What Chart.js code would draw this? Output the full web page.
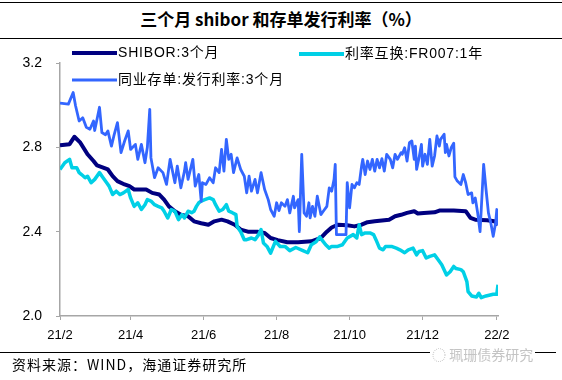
<!DOCTYPE html>
<html>
<head>
<meta charset="utf-8">
<script src="https://cdn.jsdelivr.net/npm/chart.js@4/dist/chart.umd.min.js"></script>
<style>
  html, body { margin: 0; padding: 0; background: #fff; }
  #wrap { position: relative; width: 562px; height: 380px; overflow: hidden; background: #fff; }
  #c { position: absolute; left: 0; top: 0; }
  .hl { position: absolute; left: 0; width: 562px; height: 0; border-top: 1.5px solid #000; }
  #title { position: absolute; left: 0; width: 562px; top: 7px; text-align: center;
    font-family: "Noto Sans CJK SC", "Liberation Sans", sans-serif; font-weight: bold; font-size: 17px; color: #000; line-height: 24px; }
  #source { position: absolute; left: 12px; top: 354px; font-family: "Noto Sans CJK SC", "Liberation Sans", sans-serif;
    font-size: 14px; letter-spacing: 1px; color: #000; line-height: 20px; }
  #wm { position: absolute; left: 430px; top: 344px; font-family: "Noto Sans CJK SC", sans-serif; font-size: 14px;
    color: #c4c4c4; line-height: 20px; background: #fff; padding: 0 2px; }
</style>
</head>
<body>
<div id="wrap">
  <div class="hl" style="top:2px"></div>
  <div id="title">三个月 shibor 和存单发行利率（%）</div>
  <div class="hl" style="top:38px"></div>
  <canvas id="c" width="562" height="380"></canvas>
  <div class="hl" style="top:352px; width:556px"></div>
  <div id="wm">◌ 珮珊债券研究</div>
  <div id="source">资料来源：WIND，海通证券研究所</div>
</div>
<script>
// ---------- data ----------
const startDate = "2021-02-01";
const tickDates = ["2021-02-01","2021-04-01","2021-06-01","2021-08-01","2021-10-01","2021-12-01","2022-02-01"];
const tickLabels = ["21/2","21/4","21/6","21/8","21/10","21/12","22/2"];
const endDate = "2022-02-02";

const shiborLabel = "SHIBOR:3个月";
const shiborDates = ["2021-02-01","2021-02-09","2021-02-13","2021-02-18","2021-02-24","2021-03-01","2021-03-04","2021-03-13","2021-03-17","2021-03-21","2021-03-27","2021-03-31","2021-04-04","2021-04-14","2021-04-19","2021-04-25","2021-04-29","2021-05-03","2021-05-08","2021-05-13","2021-05-19","2021-05-24","2021-05-30","2021-06-05","2021-06-10","2021-06-16","2021-06-21","2021-06-27","2021-07-02","2021-07-08","2021-07-16","2021-07-22","2021-07-27","2021-08-02","2021-08-10","2021-08-19","2021-08-30","2021-09-07","2021-09-12","2021-09-16","2021-09-21","2021-09-29","2021-10-05","2021-10-11","2021-10-16","2021-10-22","2021-10-30","2021-11-03","2021-11-08","2021-11-13","2021-11-18","2021-11-24","2021-11-27","2021-12-02","2021-12-11","2021-12-15","2021-12-27","2022-01-06","2022-01-10","2022-01-14","2022-01-24","2022-01-30","2022-02-02"];
const shiborValues = [2.81,2.815,2.85,2.822,2.767,2.735,2.714,2.695,2.663,2.64,2.624,2.616,2.60,2.60,2.584,2.576,2.552,2.52,2.497,2.48,2.473,2.449,2.44,2.433,2.449,2.457,2.449,2.433,2.41,2.40,2.40,2.394,2.37,2.36,2.35,2.35,2.354,2.37,2.40,2.42,2.433,2.43,2.425,2.433,2.445,2.449,2.454,2.457,2.473,2.48,2.489,2.497,2.486,2.489,2.492,2.50,2.50,2.497,2.465,2.457,2.454,2.449,2.433];

const fr007Label = "利率互换:FR007:1年";
const fr007Dates = ["2021-02-01","2021-02-05","2021-02-09","2021-02-11","2021-02-15","2021-02-17","2021-02-19","2021-02-22","2021-02-24","2021-02-27","2021-03-02","2021-03-06","2021-03-09","2021-03-12","2021-03-14","2021-03-17","2021-03-20","2021-03-23","2021-03-26","2021-03-30","2021-04-01","2021-04-04","2021-04-07","2021-04-10","2021-04-13","2021-04-15","2021-04-18","2021-04-21","2021-04-24","2021-04-27","2021-04-29","2021-05-02","2021-05-05","2021-05-08","2021-05-11","2021-05-14","2021-05-16","2021-05-19","2021-05-22","2021-05-24","2021-05-26","2021-05-28","2021-05-30","2021-06-02","2021-06-06","2021-06-09","2021-06-11","2021-06-14","2021-06-17","2021-06-20","2021-06-22","2021-06-25","2021-06-28","2021-06-29","2021-07-02","2021-07-05","2021-07-07","2021-07-11","2021-07-14","2021-07-17","2021-07-19","2021-07-21","2021-07-24","2021-07-27","2021-07-31","2021-08-04","2021-08-08","2021-08-12","2021-08-17","2021-08-23","2021-08-27","2021-08-30","2021-09-03","2021-09-06","2021-09-08","2021-09-11","2021-09-14","2021-09-16","2021-09-21","2021-09-25","2021-09-29","2021-10-04","2021-10-07","2021-10-09","2021-10-11","2021-10-14","2021-10-18","2021-10-21","2021-10-23","2021-10-26","2021-10-29","2021-10-31","2021-11-05","2021-11-09","2021-11-12","2021-11-16","2021-11-19","2021-11-23","2021-11-26","2021-11-28","2021-12-01","2021-12-04","2021-12-07","2021-12-11","2021-12-14","2021-12-17","2021-12-21","2021-12-24","2021-12-27","2021-12-29","2022-01-02","2022-01-04","2022-01-07","2022-01-08","2022-01-11","2022-01-15","2022-01-17","2022-01-19","2022-01-23","2022-01-29","2022-02-01","2022-02-02"];
const fr007Values = [2.695,2.727,2.743,2.703,2.703,2.68,2.671,2.656,2.663,2.632,2.648,2.68,2.656,2.632,2.616,2.576,2.592,2.576,2.584,2.60,2.56,2.52,2.537,2.505,2.528,2.552,2.545,2.528,2.52,2.513,2.497,2.465,2.505,2.497,2.457,2.481,2.465,2.497,2.49,2.497,2.52,2.537,2.545,2.552,2.56,2.552,2.528,2.497,2.505,2.528,2.497,2.49,2.481,2.425,2.40,2.362,2.362,2.37,2.362,2.386,2.41,2.346,2.33,2.298,2.354,2.33,2.33,2.31,2.325,2.31,2.30,2.338,2.352,2.375,2.36,2.338,2.322,2.33,2.33,2.338,2.37,2.386,2.37,2.433,2.386,2.394,2.394,2.386,2.362,2.322,2.314,2.33,2.33,2.322,2.314,2.30,2.314,2.322,2.29,2.306,2.31,2.275,2.283,2.29,2.267,2.243,2.195,2.21,2.235,2.225,2.22,2.21,2.163,2.116,2.095,2.09,2.108,2.087,2.095,2.103,2.103,2.148];

const cdLabel = "同业存单:发行利率:3个月";
const cdDates = ["2021-02-01","2021-02-08","2021-02-12","2021-02-14","2021-02-17","2021-02-20","2021-02-23","2021-02-26","2021-03-01","2021-03-02","2021-03-06","2021-03-08","2021-03-11","2021-03-13","2021-03-16","2021-03-18","2021-03-21","2021-03-24","2021-03-27","2021-03-30","2021-04-01","2021-04-05","2021-04-07","2021-04-10","2021-04-13","2021-04-15","2021-04-17","2021-04-18","2021-04-21","2021-04-24","2021-04-28","2021-05-01","2021-05-04","2021-05-08","2021-05-10","2021-05-13","2021-05-16","2021-05-17","2021-05-19","2021-05-23","2021-05-25","2021-05-28","2021-05-30","2021-05-31","2021-06-03","2021-06-06","2021-06-09","2021-06-11","2021-06-14","2021-06-16","2021-06-18","2021-06-20","2021-06-22","2021-06-24","2021-06-26","2021-06-29","2021-07-02","2021-07-05","2021-07-07","2021-07-09","2021-07-11","2021-07-14","2021-07-16","2021-07-19","2021-07-22","2021-07-25","2021-07-27","2021-07-30","2021-08-01","2021-08-03","2021-08-05","2021-08-08","2021-08-10","2021-08-12","2021-08-15","2021-08-16","2021-08-19","2021-08-20","2021-08-22","2021-08-24","2021-08-26","2021-08-28","2021-08-29","2021-08-31","2021-09-02","2021-09-04","2021-09-07","2021-09-09","2021-09-12","2021-09-14","2021-09-16","2021-09-18","2021-09-19","2021-09-20","2021-09-28","2021-09-29","2021-10-01","2021-10-03","2021-10-05","2021-10-07","2021-10-09","2021-10-11","2021-10-12","2021-10-14","2021-10-16","2021-10-18","2021-10-20","2021-10-22","2021-10-24","2021-10-26","2021-10-28","2021-10-30","2021-11-01","2021-11-04","2021-11-06","2021-11-08","2021-11-10","2021-11-13","2021-11-14","2021-11-16","2021-11-18","2021-11-20","2021-11-22","2021-11-24","2021-11-25","2021-11-26","2021-11-28","2021-11-30","2021-12-01","2021-12-03","2021-12-05","2021-12-07","2021-12-09","2021-12-11","2021-12-13","2021-12-15","2021-12-16","2021-12-19","2021-12-20","2021-12-21","2021-12-23","2021-12-25","2021-12-27","2021-12-28","2021-12-30","2022-01-02","2022-01-04","2022-01-06","2022-01-08","2022-01-11","2022-01-12","2022-01-14","2022-01-16","2022-01-18","2022-01-19","2022-01-21","2022-01-23","2022-01-25","2022-01-27","2022-01-29","2022-01-31","2022-02-01","2022-02-02"];
const cdValues = [3.01,3.005,3.06,2.997,2.925,2.94,2.895,2.886,2.925,2.88,2.99,2.87,2.86,2.878,2.806,2.854,2.917,2.775,2.83,2.878,2.79,2.814,2.743,2.814,2.727,2.80,2.98,2.75,2.656,2.703,2.68,2.624,2.743,2.632,2.711,2.608,2.687,2.727,2.648,2.743,2.616,2.671,2.544,2.632,2.624,2.656,2.632,2.703,2.68,2.79,2.687,2.838,2.743,2.767,2.68,2.75,2.695,2.663,2.584,2.663,2.592,2.648,2.584,2.68,2.60,2.552,2.505,2.473,2.537,2.50,2.537,2.52,2.552,2.489,2.568,2.513,2.552,2.40,2.767,2.489,2.473,2.537,2.465,2.52,2.473,2.568,2.481,2.497,2.52,2.608,2.592,2.648,2.719,2.386,2.386,2.632,2.513,2.624,2.608,2.632,2.624,2.711,2.743,2.671,2.735,2.695,2.743,2.687,2.743,2.703,2.746,2.687,2.767,2.743,2.703,2.767,2.743,2.775,2.767,2.798,2.735,2.822,2.83,2.743,2.806,2.695,2.75,2.814,2.711,2.767,2.719,2.838,2.711,2.759,2.854,2.806,2.838,2.862,2.775,2.814,2.759,2.80,2.82,2.66,2.64,2.624,2.671,2.632,2.576,2.584,2.537,2.56,2.489,2.40,2.505,2.719,2.60,2.489,2.441,2.378,2.441,2.505,2.43];

const yMin = 2.0, yMax = 3.2, yStep = 0.4;

// ---------- helpers ----------
function dayOf(s) {
  const [y, m, d] = s.split("-").map(Number);
  const [y0, m0, d0] = startDate.split("-").map(Number);
  return Math.round((Date.UTC(y, m - 1, d) - Date.UTC(y0, m0 - 1, d0)) / 86400000);
}
function pts(dates, vals) { return dates.map((d, i) => ({ x: dayOf(d), y: vals[i] })); }
const tickDays = tickDates.map(dayOf);

const colShibor = "#000080";
const colFr = "#00D0E6";
const colCd = "#3366FF";

const legendPlugin = {
  id: "customLegend",
  afterDraw(chart) {
    const ctx = chart.ctx;
    const items = [
      { label: shiborLabel, color: colShibor, w: 4, x: 72, y: 53 },
      { label: fr007Label, color: colFr, w: 4, x: 299, y: 54 },
      { label: cdLabel, color: colCd, w: 3, x: 72, y: 80 }
    ];
    ctx.save();
    items.forEach(it => {
      ctx.strokeStyle = it.color;
      ctx.lineWidth = it.w;
      ctx.lineCap = "butt";
      ctx.beginPath();
      ctx.moveTo(it.x, it.y);
      ctx.lineTo(it.x + 45, it.y);
      ctx.stroke();
      ctx.fillStyle = "#000";
      ctx.font = '14px "Liberation Sans", "Noto Sans CJK SC", sans-serif';
      ctx.textBaseline = "middle";
      ctx.textAlign = "left";
      try { ctx.letterSpacing = "0.8px"; } catch (e) {}
      ctx.fillText(it.label, it.x + 46, it.y);
    });
    ctx.restore();
  }
};

new Chart(document.getElementById("c"), {
  type: "line",
  data: {
    datasets: [
      { label: shiborLabel, data: pts(shiborDates, shiborValues), borderColor: colShibor, borderWidth: 4, order: 2 },
      { label: fr007Label, data: pts(fr007Dates, fr007Values), borderColor: colFr, borderWidth: 3.5, order: 1 },
      { label: cdLabel, data: pts(cdDates, cdValues), borderColor: colCd, borderWidth: 2.8, order: 0 }
    ]
  },
  options: {
    responsive: false,
    animation: false,
    devicePixelRatio: 1,
    elements: { point: { radius: 0 }, line: { tension: 0, borderJoinStyle: "round", fill: false } },
    layout: { padding: { left: 0, right: 64, top: 63, bottom: 40 } },
    plugins: { legend: { display: false }, tooltip: { enabled: false }, title: { display: false } },
    scales: {
      x: {
        type: "linear",
        min: 0,
        max: dayOf(endDate),
        afterBuildTicks: (s) => { s.ticks = tickDays.map(v => ({ value: v })); },
        afterFit: (s) => { s.height = 24; },
        grid: { drawOnChartArea: false, drawTicks: true, tickLength: 4, color: "#a6a6a6", lineWidth: 1 },
        border: { color: "#a6a6a6", width: 1.5 },
        ticks: {
          autoSkip: false, maxRotation: 0, padding: 8, color: "#000",
          font: { family: '"Liberation Sans", Arial, sans-serif', size: 13 },
          callback: (v) => { const i = tickDays.indexOf(v); return i >= 0 ? tickLabels[i] : ""; }
        }
      },
      y: {
        min: yMin, max: yMax,
        afterFit: (s) => { s.width = 60; },
        grid: { drawOnChartArea: false, drawTicks: true, tickLength: 4, color: "#a6a6a6", lineWidth: 1 },
        border: { color: "#a6a6a6", width: 1.5 },
        ticks: {
          stepSize: yStep, padding: 14, color: "#000",
          font: { family: '"Liberation Sans", Arial, sans-serif', size: 14 },
          callback: (v) => Number(v).toFixed(1)
        }
      }
    }
  },
  plugins: [legendPlugin]
});
</script>
</body>
</html>
